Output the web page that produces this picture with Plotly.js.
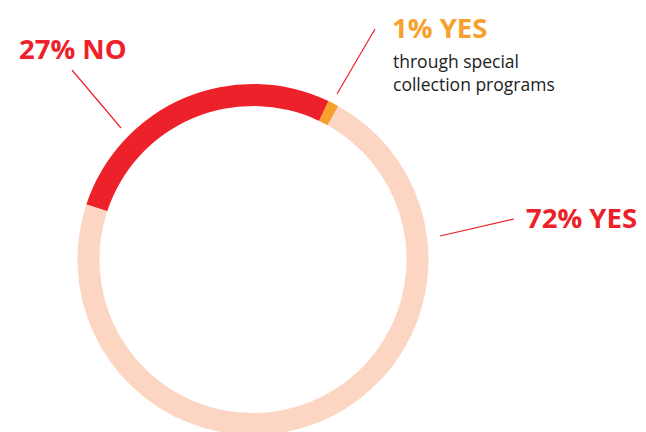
<!DOCTYPE html>
<html>
<head>
<meta charset="utf-8">
<script src="https://cdn.plot.ly/plotly-3.0.1.min.js"></script>
<style>
html,body{margin:0;padding:0;background:#fff;overflow:hidden;width:646px;height:432px;}
#chart{width:646px;height:440px;}
</style>
</head>
<body>
<div id="chart"></div>
<script>
const categories = ['NO', 'YES (through special collection programs)', 'YES'];
const values = [27, 1, 72];
const sliceColors = ['#ED2129', '#F8A02C', '#FCD5C3'];
const labelTitles = ['27% NO', '1% YES', '72% YES'];
const subLabel = 'through special<br>collection programs';

const W = 646, H = 440;
const px = x => x / W;
const py = y => (H - y) / H;

const trace = {
  type: 'pie',
  labels: categories,
  values: values,
  sort: false,
  direction: 'clockwise',
  rotation: -71.7,
  hole: 0.875,
  marker: {colors: sliceColors, line: {width: 0}},
  textinfo: 'none',
  hoverinfo: 'label+percent',
  showlegend: false,
  domain: {x: [77.5 / W, 428.5 / W], y: [5 / H, 356 / H]}
};

const lineStyle = {color: '#ED2129', width: 1.2};
const bigFont = 'Open Sans, sans-serif';
const layout = {
  width: W, height: H,
  margin: {l: 0, r: 0, t: 0, b: 0},
  paper_bgcolor: '#ffffff',
  showlegend: false,
  font: {family: bigFont},
  shapes: [
    {type: 'line', xref: 'paper', yref: 'paper', x0: px(72), y0: py(70), x1: px(121), y1: py(128), line: lineStyle},
    {type: 'line', xref: 'paper', yref: 'paper', x0: px(375), y0: py(29), x1: px(337), y1: py(94), line: lineStyle},
    {type: 'line', xref: 'paper', yref: 'paper', x0: px(440), y0: py(236), x1: px(514), y1: py(219), line: lineStyle}
  ],
  annotations: [
    {xref: 'paper', yref: 'paper', x: px(17), y: py(49), xanchor: 'left', yanchor: 'middle', showarrow: false,
     text: '<b>' + labelTitles[0] + '</b>', font: {size: 27.5, color: '#ED2129', family: bigFont}},
    {xref: 'paper', yref: 'paper', x: px(390), y: py(27), xanchor: 'left', yanchor: 'middle', showarrow: false,
     text: '<b>' + labelTitles[1] + '</b>', font: {size: 27.5, color: '#F8A02C', family: bigFont}},
    {xref: 'paper', yref: 'paper', x: px(391), y: py(72), xanchor: 'left', yanchor: 'middle', align: 'left', showarrow: false,
     text: subLabel, font: {size: 17.5, color: '#222222', family: bigFont}},
    {xref: 'paper', yref: 'paper', x: px(524), y: py(217), xanchor: 'left', yanchor: 'middle', showarrow: false,
     text: '<b>' + labelTitles[2] + '</b>', font: {size: 27.5, color: '#ED2129', family: bigFont}}
  ]
};

Plotly.newPlot('chart', [trace], layout, {displayModeBar: false, staticPlot: true});
</script>
</body>
</html>
